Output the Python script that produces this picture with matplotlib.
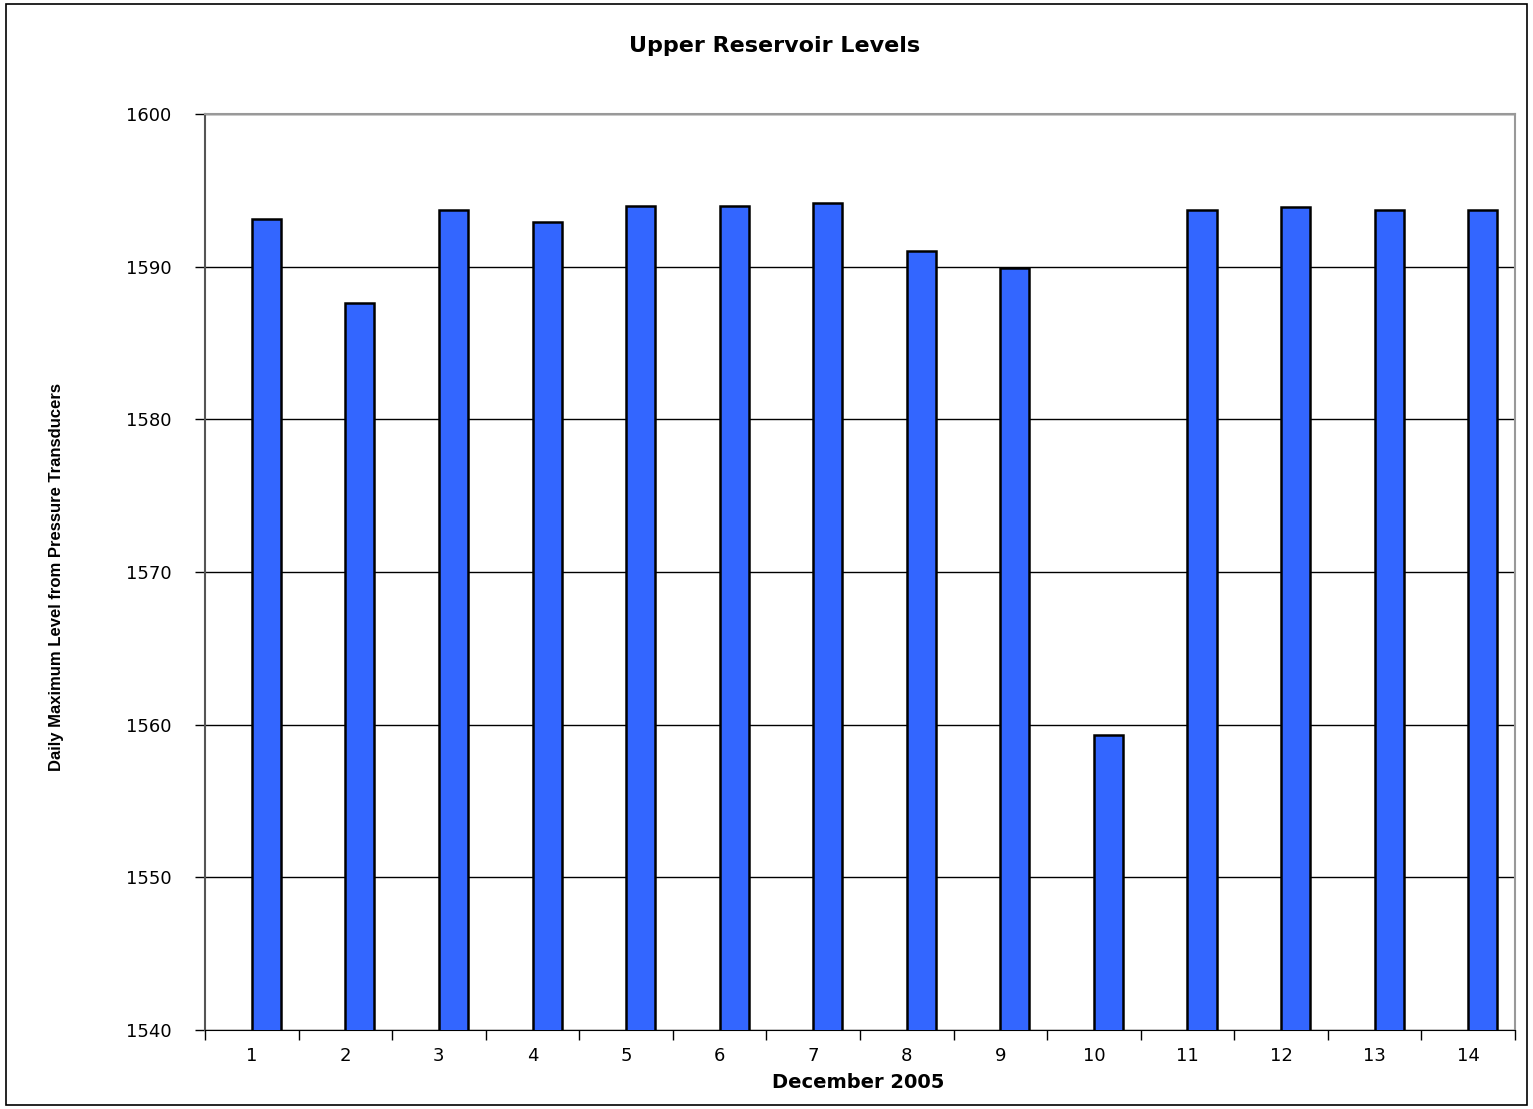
import numpy as np
import matplotlib.pyplot as plt
from matplotlib.patches import Rectangle
from matplotlib.ticker import FixedLocator, NullFormatter

days = list(range(1, 15))
levels = [1593.1, 1587.6, 1593.7, 1592.9, 1594.0, 1594.0, 1594.2,
          1591.0, 1589.9, 1559.3, 1593.7, 1593.9, 1593.7, 1593.7]

plt.rcParams['font.family'] = ['DejaVu Sans']

fig = plt.figure(figsize=(15.33, 11.09), dpi=100)
ax = fig.add_axes([205 / 1533, 1 - 1030 / 1109, 1310 / 1533, 916 / 1109])

x = np.arange(len(days))
# bars start at the category centre, like the original spreadsheet chart
ax.bar(x, levels, width=0.31, align='edge', color='#3366ff', edgecolor='black',
       linewidth=1.8, zorder=3)

ax.set_xlim(-0.5, len(days) - 0.5)
ax.set_ylim(1540, 1600)
ax.set_yticks(np.arange(1540, 1601, 10))
ax.set_yticklabels([str(v) for v in range(1540, 1601, 10)])
ax.set_xticks(x)
ax.set_xticklabels([str(d) for d in days])
ax.xaxis.set_minor_locator(FixedLocator(np.arange(-0.5, len(days), 1)))
ax.xaxis.set_minor_formatter(NullFormatter())
ax.tick_params(axis='x', which='major', length=0, pad=12, labelsize=13)
ax.tick_params(axis='x', which='minor', length=7, direction='out', width=1)
ax.tick_params(axis='y', length=7, direction='out', width=1, pad=17, labelsize=13)

ax.yaxis.grid(True, color='black', linewidth=1, zorder=0)
ax.set_axisbelow(True)
for s in ['top', 'right']:
    ax.spines[s].set_color('#999999')
    ax.spines[s].set_linewidth(1.5)
ax.spines['left'].set_color('#555555')
ax.spines['left'].set_linewidth(1.5)
ax.spines['bottom'].set_color('black')

fig.text(858 / 1533, 1 - 1082 / 1109, 'December 2005', fontsize=14,
         fontweight='bold', ha='center', va='center')
fig.text(775 / 1533, 1 - 46 / 1109, 'Upper Reservoir Levels', fontsize=16,
         fontweight='bold', ha='center', va='center')
fig.text(57 / 1533, 1 - 577 / 1109, 'Daily Maximum Level from Pressure Transducers',
         fontsize=12, fontweight='bold', rotation=90, ha='center', va='center',
         family=['Liberation Sans Narrow', 'Liberation Sans', 'DejaVu Sans'])

fig.patches.append(Rectangle((0.004, 0.004), 0.992, 0.992, transform=fig.transFigure,
                             fill=False, edgecolor='black', linewidth=1.2))

fig.savefig('out.png', dpi=100, facecolor='white')
